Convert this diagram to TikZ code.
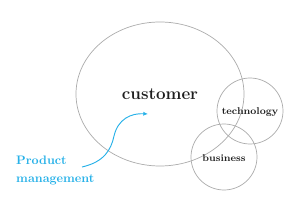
\documentclass[tikz,border=0pt]{standalone}
\usetikzlibrary{arrows.meta,positioning,shapes.geometric}
\usepackage{xcolor}
\definecolor{Ring}{HTML}{ABABAB}
\definecolor{Sky}{HTML}{27B1E8}
\definecolor{Ink}{HTML}{1E1E1E}
\tikzset{
 ring/.style={draw=Ring, line width=0.6pt, fill=none},
 label/.style={text=Ink, inner sep=0pt, font=\fontsize{8.4}{9}\selectfont\bfseries},
 pmtext/.style={text=Sky, inner sep=0pt, anchor=west, font=\fontsize{10.5}{12}\selectfont\bfseries},
 pmarrow/.style={-{Latex[length=4pt,width=3.5pt]}, draw=Sky, line width=0.8pt}
}

\begin{document}
\begin{tikzpicture}[x=0.03cm,y=-0.03cm]
\useasboundingbox (0,0) rectangle (300,200);
\draw[ring] (160,94) ellipse [x radius=2.52cm, y radius=2.16cm];
\draw[ring] (250,111) circle [radius=0.99cm];
\draw[ring] (224,157) circle [radius=0.99cm];
\node[label,font=\fontsize{14.5}{16}\selectfont\bfseries] (cust) at (160,94) {customer};
\node[label] (tech) at (250,112) {technology};
\node[label] (biz) at (224,158) {business};
\node[pmtext] (prod) at (16,160) {Product};
\node[pmtext] (mgmt) at (16,180) {management};
\coordinate (pmstart) at (82,167);
\coordinate (pmend) at (148,114);
\draw[pmarrow] (pmstart) .. controls (104,162) and (111,150) .. (114,136)
 .. controls (118,119) and (131,113) .. (pmend);
\end{tikzpicture}
\end{document}
